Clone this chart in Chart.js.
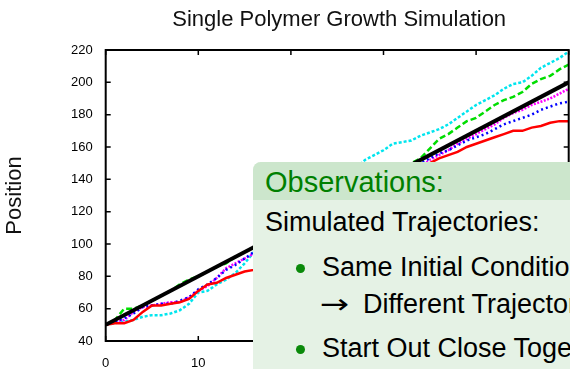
<!DOCTYPE html>
<html>
<head>
<meta charset="utf-8">
<script src="https://cdn.jsdelivr.net/npm/chart.js@4"></script>
<style>
  html, body { margin: 0; padding: 0; background: #fff; overflow: hidden; }
  #wrap { position: relative; width: 570px; height: 369px; }
  #box { position: absolute; left: 253px; top: 162px; width: 420px; height: 260px;
         background: #e5f2e5; border-top-left-radius: 8px; overflow: hidden;
         font-family: "Liberation Sans", Arial, sans-serif; color: #000; white-space: nowrap; }
  #box .head { position: absolute; left: 0; top: 0; right: 0; height: 38px; background: #cce6cc; }
  #box .t { position: absolute; line-height: 1; }
  #box .arr { font-family: "DejaVu Sans", sans-serif; display: inline-block; width: 41px; }
  #box .arr span { display: inline-block; transform: translateX(-2px) scaleX(1.3); transform-origin: left center; }
  #box .dot { position: absolute; width: 9px; height: 9px; border-radius: 50%; background: #0a8a0a; }
</style>
</head>
<body>
<div id="wrap">
  <canvas id="c" width="570" height="369"></canvas>
  <div id="box">
    <div class="head"></div>
    <div class="t" style="left:12px;top:6px;font-size:29px;color:#008000;">Observations:</div>
    <div class="t" style="left:12px;top:47px;font-size:27px;">Simulated Trajectories:</div>
    <div class="dot" style="left:43px;top:102px;"></div>
    <div class="t" style="left:69px;top:92px;font-size:27px;">Same Initial Conditions</div>
    <div class="t" style="left:69px;top:128px;font-size:27px;"><span class="arr"><span>&rarr;</span></span>Different Trajectories</div>
    <div class="dot" style="left:43px;top:183px;"></div>
    <div class="t" style="left:69px;top:173px;font-size:27px;">Start Out Close Together</div>
  </div>
</div>
<script>
// time steps
const xs = [0,1,2,3,4,5,6,7,8,9,10,11,12,13,14,15,16,17,18,19,20,21,22,23,24,25,
  26,27,28,29,30,31,32,33,34,35,36,37,38,39,40,41,42,43,44,45,46,47,48,49,50];

// simulated trajectories
const red = [50,51,51,53,58,62,62,63,64,66,71,75,76,79,81,83,84,88,91,95,98,102,105,109,112,116,
  119,123,126,130,133,137,140,144,147,150,153,155,157,160,162,164,166,168,170,170,172,173,175,176,176];
const green = [50,53,60,60,62,65,68,71,75,78,80,83,86,88,92,95,98,101,104,106,109,112,115,118,121,124,
  127,131,134,137,140,143,147,150,153,159,165,168,172,176,178,182,186,189,191,194,199,202,204,208,211];
const blue = [50,52,54,57,61,62,63,63,65,67,72,75,79,84,87,91,95,98,101,104,107,110,112,115,118,121,
  124,127,130,133,136,139,142,145,150,153,156,158,161,164,166,168,171,174,176,178,180,183,185,187,188];
const magenta = [50,52,53,58,61,62,63,64,64,67,71,74,79,85,88,91,94,97,100,103,106,109,112,115,118,121,
  124,127,130,133,136,139,142,145,148,152,155,158,162,165,168,171,174,178,181,183,186,188,190,193,196];
const cyan = [50,51,52,53,55,56,56,57,59,63,70,71,75,78,82,88,95,100,105,109,114,119,123,128,133,138,
  143,147,152,155,158,162,163,164,167,169,171,174,178,182,186,189,192,196,199,200,204,209,212,215,219];

// mean growth line
const meanX = [0, 50];
const meanY = [50, 200];

const yTicks = [40,60,80,100,120,140,160,180,200,220];
const xTicks = [0,10,20,30,40,50];

function pts(xv, yv) {
  return yv.map((v, i) => ({ x: xv[i], y: v }));
}

// gnuplot style frame, inward ticks and title
const framePlugin = {
  id: 'frame',
  afterDatasetsDraw(chart) {
    const { ctx, chartArea: a, scales } = chart;
    ctx.save();
    ctx.strokeStyle = '#000';
    ctx.lineWidth = 2;
    ctx.strokeRect(a.left, a.top, a.right - a.left, a.bottom - a.top);
    ctx.lineWidth = 1.5;
    ctx.beginPath();
    xTicks.forEach(t => {
      const px = scales.x.getPixelForValue(t);
      ctx.moveTo(px, a.bottom); ctx.lineTo(px, a.bottom - 5);
      ctx.moveTo(px, a.top); ctx.lineTo(px, a.top + 5);
    });
    yTicks.forEach(t => {
      const py = scales.y.getPixelForValue(t);
      ctx.moveTo(a.left, py); ctx.lineTo(a.left + 5, py);
      ctx.moveTo(a.right, py); ctx.lineTo(a.right - 5, py);
    });
    ctx.stroke();
    ctx.fillStyle = '#111';
    ctx.font = '22px "Liberation Sans", Arial, sans-serif';
    ctx.textAlign = 'center';
    ctx.textBaseline = 'alphabetic';
    ctx.fillText('Single Polymer Growth Simulation', (a.left + a.right) / 2 + 2, 26);
    ctx.restore();
  }
};

const line = (data, color, dash, width) => ({
  data: data, borderColor: color, borderWidth: width, borderDash: dash,
  pointRadius: 0, fill: false, tension: 0
});

new Chart(document.getElementById('c'), {
  type: 'line',
  data: {
    datasets: [
      line(pts(meanX, meanY), '#000', [], 4),
      line(pts(xs, red), '#ff0000', [], 2.5),
      line(pts(xs, green), '#00dd00', [6, 3], 2.5),
      line(pts(xs, blue), '#0000ff', [2, 3], 2.5),
      line(pts(xs, magenta), '#ff00ff', [2, 1.5], 2.5),
      line(pts(xs, cyan), '#00e5ee', [3, 2], 2.5)
    ]
  },
  options: {
    responsive: false,
    animation: false,
    layout: { padding: { top: 50, right: 1.3, left: 0, bottom: 0 } },
    plugins: { legend: { display: false }, tooltip: { enabled: false } },
    scales: {
      x: {
        type: 'linear', min: 0, max: 50,
        grid: { display: false, drawTicks: false },
        border: { display: false },
        ticks: { stepSize: 10, padding: 15, color: '#000', maxRotation: 0,
                 font: { family: '"Liberation Sans", Arial, sans-serif', size: 13 } },
        afterFit(s) { s.height = 28; s.paddingLeft = 0; s.paddingRight = 0; }
      },
      y: {
        min: 40, max: 220,
        grid: { display: false, drawTicks: false },
        border: { display: false },
        ticks: { stepSize: 20, padding: 13, color: '#000',
                 font: { family: '"Liberation Sans", Arial, sans-serif', size: 13 } },
        title: { display: true, text: 'Position', color: '#111', padding: { top: 2, bottom: 0 },
                 font: { family: '"Liberation Sans", Arial, sans-serif', size: 22 } },
        afterFit(s) { s.width = 105.7; }
      }
    }
  },
  plugins: [framePlugin]
});
</script>
</body>
</html>
